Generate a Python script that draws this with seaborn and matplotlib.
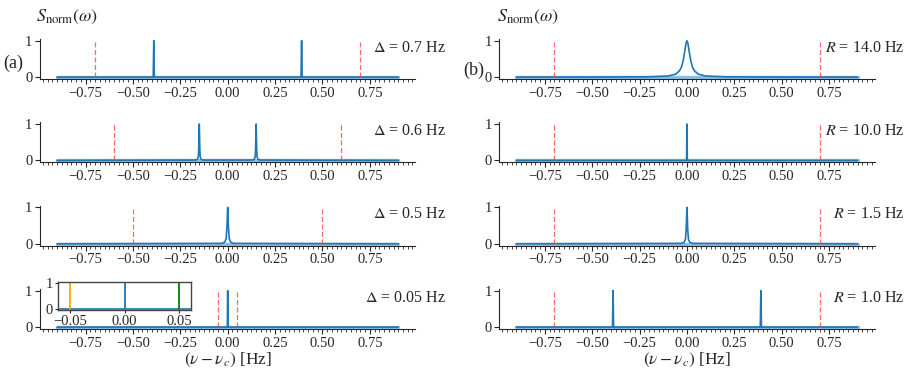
import numpy as np
import seaborn as sns
import matplotlib.pyplot as plt
from matplotlib.ticker import AutoMinorLocator

# left column: detuning sweep, right column: rate sweep
deltas = [0.7, 0.6, 0.5, 0.05]
rates = [14.0, 10.0, 1.5, 1.0]

# spectra (x in Hz, y normalised)
a1_x = [-0.9, -0.393, -0.39, -0.387, 0.387, 0.39, 0.393, 0.9]
a1_y = [0, 0, 1, 0, 0, 1, 0, 0]
a2_x = [-0.9, -0.17, -0.16, -0.155, -0.153, -0.15, -0.147, -0.145, -0.14, -0.13,
        0.13, 0.14, 0.145, 0.147, 0.15, 0.153, 0.155, 0.16, 0.17, 0.9]
a2_y = [0, 0.01, 0.03, 0.1, 0.3, 1, 0.3, 0.1, 0.03, 0.01,
        0.01, 0.03, 0.1, 0.3, 1, 0.3, 0.1, 0.03, 0.01, 0]
a3_x = [-0.9, -0.03, -0.015, -0.008, -0.004, 0, 0.004, 0.008, 0.015, 0.03, 0.9]
a3_y = [0, 0.01, 0.05, 0.15, 0.45, 1, 0.45, 0.15, 0.05, 0.01, 0]
a4_x = [-0.9, -0.002, 0, 0.002, 0.9]
a4_y = [0, 0, 1, 0, 0]
b1_x = [-0.9, -0.5, -0.2, -0.1, -0.06, -0.04, -0.03, -0.02, -0.01, -0.005, 0,
        0.005, 0.01, 0.02, 0.03, 0.04, 0.06, 0.1, 0.2, 0.5, 0.9]
b1_y = [0, 0.001, 0.008, 0.03, 0.08, 0.17, 0.26, 0.45, 0.76, 0.93, 1,
        0.93, 0.76, 0.45, 0.26, 0.17, 0.08, 0.03, 0.008, 0.001, 0]
b2_x = [-0.9, -0.002, 0, 0.002, 0.9]
b2_y = [0, 0, 1, 0, 0]
b3_x = [-0.9, -0.03, -0.015, -0.008, -0.004, 0, 0.004, 0.008, 0.015, 0.03, 0.9]
b3_y = [0, 0.01, 0.04, 0.12, 0.4, 1, 0.4, 0.12, 0.04, 0.01, 0]
b4_x = [-0.9, -0.393, -0.39, -0.387, 0.387, 0.39, 0.393, 0.9]
b4_y = [0, 0, 1, 0, 0, 1, 0, 0]

# inset of the last left panel
inset_pos = [-0.05, 0.0, 0.05]
inset_colors = ['orange', '#1f77b4', 'green']

left_spectra = [(a1_x, a1_y), (a2_x, a2_y), (a3_x, a3_y), (a4_x, a4_y)]
right_spectra = [(b1_x, b1_y), (b2_x, b2_y), (b3_x, b3_y), (b4_x, b4_y)]
right_lines = 0.7

sns.set_style("ticks")
plt.rcParams['font.family'] = ['Liberation Serif', 'DejaVu Serif']
plt.rcParams['mathtext.fontset'] = 'stix'
plt.rcParams['font.size'] = 10.5

fig, axes = plt.subplots(4, 2, figsize=(9.11, 3.70), dpi=100)
fig.subplots_adjust(left=0.044, right=0.96, top=0.895, bottom=0.111, hspace=1.08, wspace=0.224)

blue = '#1f77b4'
light = '#8fbce0'


def draw_panel(ax, xs, ys, vline, label):
    ax.plot([-0.9, 0.9], [0, 0], color=light, lw=2.4, zorder=1)
    sns.lineplot(x=xs, y=ys, ax=ax, color=blue, lw=1.2, zorder=2)
    ax.vlines([-vline, vline], 0, 1, colors='#ff4444', linestyles=(0, (4, 2)), lw=0.9, alpha=0.8)
    ax.set_yticks([0, 1])
    ax.set_xticks([-0.75, -0.5, -0.25, 0, 0.25, 0.5, 0.75])
    ax.xaxis.set_minor_locator(AutoMinorLocator(10))
    ax.tick_params(axis='x', which='minor', length=2, width=0.6)
    ax.tick_params(axis='both', which='major', length=3.5, width=0.8, pad=2)
    ax.set_xlim(-0.99, 0.99)
    ax.set_ylim(-0.05, 1.05)
    sns.despine(ax=ax)
    ax.text(1.08, 0.78, label, transform=ax.transAxes, ha='right', va='center', fontsize=11.5)


for i in range(4):
    d = deltas[i]
    xs, ys = left_spectra[i]
    draw_panel(axes[i, 0], xs, ys, d, r'$\Delta$ = %s Hz' % d)
    xs, ys = right_spectra[i]
    draw_panel(axes[i, 1], xs, ys, right_lines, r'$R$ = %.1f Hz' % rates[i])

axes[3, 0].set_xlabel(r'$(\nu - \nu_c)$ [Hz]', fontsize=12.5, labelpad=1)
axes[3, 1].set_xlabel(r'$(\nu - \nu_c)$ [Hz]', fontsize=12.5, labelpad=1)

ins = axes[3, 0].inset_axes([0.048, 0.475, 0.355, 0.7])
ins.plot([-0.062, 0.062], [0, 0], color=blue, lw=1.2)
for p, c in zip(inset_pos, inset_colors):
    ins.plot([p, p], [0, 1], color=c, lw=1.3)
ins.set_xlim(-0.061, 0.061)
ins.set_ylim(-0.03, 1.04)
ins.set_xticks([-0.05, 0, 0.05])
ins.set_xticklabels(['−0.05', '0.00', '0.05'])
ins.set_yticks([0, 1])
ins.tick_params(length=2.5, pad=1, labelsize=10.5)
for s in ins.spines.values():
    s.set_color('#444444')
    s.set_linewidth(1.0)

fig.text(0.040, 0.955, r'$S_{\rm norm}(\omega)$', fontsize=13, va='center')
fig.text(0.546, 0.955, r'$S_{\rm norm}(\omega)$', fontsize=13, va='center')
fig.text(0.004, 0.83, '(a)', fontsize=13, va='center')
fig.text(0.508, 0.81, '(b)', fontsize=13, va='center')

fig.savefig("out.png", dpi=100)
plt.close()
